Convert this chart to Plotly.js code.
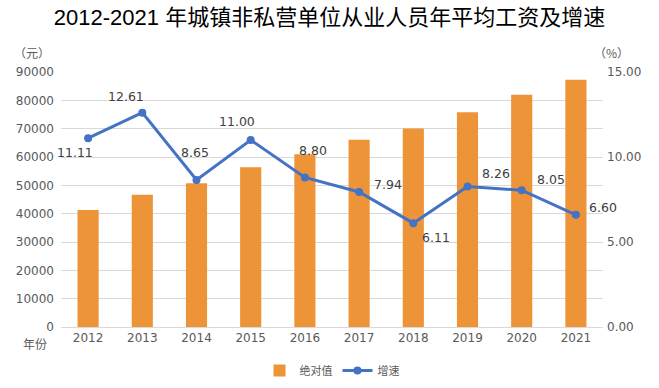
<!DOCTYPE html>
<html><head><meta charset="utf-8">
<script src="https://cdn.plot.ly/plotly-3.0.1.min.js"></script>
<style>html,body{margin:0;padding:0;background:#fff}#c{width:659px;height:388px}</style>
</head><body><div id="c"></div>
<script>
const years = [2012, 2013, 2014, 2015, 2016, 2017, 2018, 2019, 2020, 2021];
const yearLabels = ['2012','2013','2014','2015','2016','2017','2018','2019','2020','2021'];
const wages = [41300, 46700, 50700, 56400, 61000, 66100, 70100, 75800, 82000, 87300];
const growth = [11.11, 12.61, 8.65, 11.00, 8.80, 7.94, 6.11, 8.26, 8.05, 6.60];
const growthLabels = ['11.11','12.61','8.65','11.00','8.80','7.94','6.11','8.26','8.05','6.60'];
const leftTicks = [0,10000,20000,30000,40000,50000,60000,70000,80000,90000];
const rightTicks = [0,5,10,15];
const rightTickText = ['0.00','5.00','10.00','15.00'];
// label offsets (px) relative to each point
const labelShift = [[-13,-14],[-16,16],[-2,27],[-14,19],[8,27],[29,8],[23,-14],[28,13],[29,11],[27,7]];

const fontFam = '"DejaVu Sans", "Noto Sans CJK SC", sans-serif';
const annotations = growth.map((g,i)=>({
  x: years[i], y: g, xref:'x', yref:'y2', text: growthLabels[i], showarrow:false,
  xshift: labelShift[i][0], yshift: labelShift[i][1],
  font:{family:fontFam, size:12.5, color:'#404040'}
}));
annotations.push({xref:'paper',yref:'paper',x:-0.054,y:1.075,xanchor:'center',yanchor:'middle',text:'（元）',showarrow:false,font:{family:'Noto Sans CJK SC',size:12,color:'#595959'}});
annotations.push({xref:'paper',yref:'paper',x:1.015,y:1.075,xanchor:'center',yanchor:'middle',text:'（%）',showarrow:false,font:{family:'Noto Sans CJK SC',size:12,color:'#595959'}});
annotations.push({xref:'paper',yref:'paper',x:-0.048,y:-0.063,xanchor:'center',yanchor:'middle',text:'年份',showarrow:false,font:{family:'Noto Sans CJK SC',size:12,color:'#595959'}});

const data = [
  {type:'bar', x:years, y:wages, name:'绝对值', marker:{color:'#ED9439'}, yaxis:'y', width:0.39},
  {type:'scatter', mode:'lines+markers', x:years, y:growth, name:'增速', yaxis:'y2',
   line:{color:'#4472C4', width:3}, marker:{color:'#4472C4', size:8}}
];
const layout = {
  width:659, height:388,
  margin:{l:61, r:56, t:72, b:61, autoexpand:false},
  paper_bgcolor:'#fff', plot_bgcolor:'#fff',
  title:{text:'2012-2021 年城镇非私营单位从业人员年平均工资及增速', x:0.5, xanchor:'center', y:0.955, yanchor:'middle',
         font:{family:'"Liberation Sans", "Noto Sans CJK SC", sans-serif', size:22, color:'#000', weight:400}},
  showlegend:true,
  legend:{orientation:'h', x:0.5, xanchor:'center', xref:'paper', yref:'container', y:0.045, yanchor:'middle',
          font:{family:'Noto Sans CJK SC', size:11, color:'#595959'}, itemwidth:30, tracegroupgap:0},
  xaxis:{type:'linear', range:[2011.5, 2021.5], tickvals:years, ticktext:yearLabels,
         tickfont:{family:fontFam, size:12, color:'#595959'}, showline:true, linecolor:'#d9d9d9', linewidth:1, ticks:'', showgrid:false, zeroline:false},
  yaxis:{range:[0,90000], tickvals:leftTicks, ticktext:leftTicks.map(String), tickfont:{family:fontFam, size:12, color:'#595959'},
         showgrid:true, gridcolor:'#d9d9d9', gridwidth:1, zeroline:false, ticks:'', ticklabelstandoff:6},
  yaxis2:{range:[0,15], overlaying:'y', side:'right', tickvals:rightTicks, ticktext:rightTickText,
          tickfont:{family:fontFam, size:12, color:'#595959'}, showgrid:false, zeroline:false, ticks:'', ticklabelstandoff:3},
  annotations:annotations
};
Plotly.newPlot('c', data, layout, {displayModeBar:false, staticPlot:true});
</script></body></html>
